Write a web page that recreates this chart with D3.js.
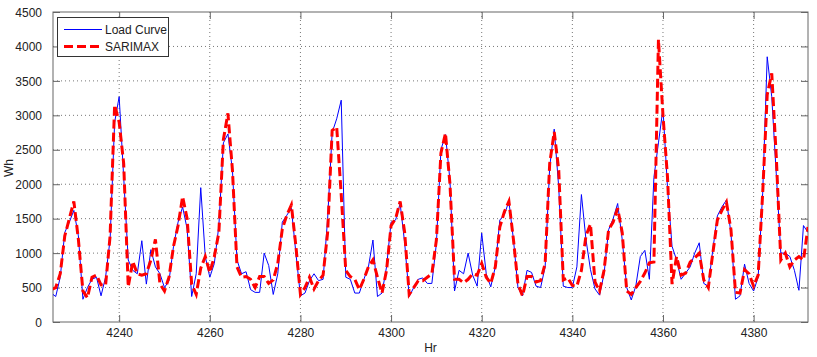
<!DOCTYPE html>
<html>
<head>
<meta charset="utf-8">
<script src="https://cdn.jsdelivr.net/npm/d3@7"></script>
<style>
body{margin:0;background:#fff}
svg{font-family:"Liberation Sans",Arial,sans-serif}
.tick text{font-size:12px;fill:#222}
</style>
</head>
<body>
<div id="chart"></div>
<script>
// hours on the x axis
var hourStart = 4225
var hourEnd = 4392
var xTicks = [4240,4260,4280,4300,4320,4340,4360,4380]
var yTicks = [0,500,1000,1500,2000,2500,3000,3500,4000,4500]

// measured load (Wh), one per hour from hourStart
var loadCurve = [
    420,370,650,1300,1450,1620,1250,330,500,620,650,380,650,1200,2900,3270,
    2100,900,750,700,1180,550,1050,800,700,500,600,1100,1450,1670,1350,370,
    700,1950,950,650,850,1400,2600,2730,2200,900,700,730,470,430,430,1000,
    820,400,700,1450,1550,1650,1000,380,420,600,700,600,620,1500,2750,2950,
    3220,650,620,420,420,620,800,1190,370,420,800,1450,1480,1720,1150,370,
    500,620,640,560,560,1140,2500,2720,2050,450,750,700,1000,680,520,1290,
    700,510,800,1480,1560,1750,1200,500,380,750,720,520,500,800,2250,2800,
    1950,520,500,500,800,1850,1200,760,480,390,700,1340,1500,1720,1200,500,
    320,520,950,1040,620,2100,2600,3100,1950,1100,900,620,710,800,1000,1150,
    560,520,1050,1540,1670,1770,1290,330,380,840,560,450,650,1870,3850,3270,
    2150,1000,1000,950,750,460,1400,1300]

// SARIMAX forecast (Wh)
var sarimax = [
    470,500,700,1250,1500,1750,1200,450,350,650,680,540,530,1250,3150,2900,
    2300,510,880,700,680,700,900,1200,550,450,650,1100,1400,1820,1500,550,
    400,780,950,720,950,1300,2650,3030,2200,800,650,660,620,500,660,660,
    560,610,850,1350,1550,1700,1100,400,500,650,480,600,680,1300,2780,2830,
    1850,750,660,620,470,620,800,900,650,420,750,1400,1500,1750,1300,400,
    500,600,600,650,700,1190,2450,2740,2000,620,620,570,620,700,680,850,
    650,560,800,1380,1600,1750,1200,550,380,660,660,580,600,850,2300,2760,
    2200,610,640,530,520,750,1250,1420,580,450,750,1340,1450,1650,1300,450,
    400,500,590,710,860,870,4100,3000,2100,550,950,680,710,870,930,1000,
    610,500,1000,1480,1620,1740,1340,430,420,760,700,520,680,1870,3300,3610,
    2400,900,1000,800,900,950,900,1380]

var legendNames = ['Load Curve','SARIMAX']

var width = 817, height = 357
var plot = {left:53, right:808, top:12, bottom:322}

var hours = d3.range(hourStart, hourEnd+1)

var svg = d3.select('#chart').append('svg')
    .attr('width', width)
    .attr('height', height)

var x = d3.scaleLinear().domain([4225.4, 4392]).range([plot.left, plot.right])
var y = d3.scaleLinear().domain([0, 4500]).range([plot.bottom, plot.top])

svg.append('defs').append('clipPath')
    .attr('id','plotclip')
    .append('rect')
    .attr('x', plot.left).attr('y', plot.top)
    .attr('width', plot.right-plot.left).attr('height', plot.bottom-plot.top)

// grid
var grid = svg.append('g').attr('class','grid')
grid.selectAll('line.hg').data(yTicks.slice(1, -1)).enter().append('line')
    .attr('x1', plot.left).attr('x2', plot.right)
    .attr('y1', function(d){return y(d)}).attr('y2', function(d){return y(d)})
    .style('stroke','#777').style('stroke-dasharray','1,3')
grid.selectAll('line.vg').data(xTicks).enter().append('line')
    .attr('x1', function(d){return x(d)}).attr('x2', function(d){return x(d)})
    .attr('y1', plot.top).attr('y2', plot.bottom)
    .style('stroke','#777').style('stroke-dasharray','1,3')

// axes (MATLAB style box, ticks inside)
var tickLen = 7
var bottomAxis = svg.append('g')
    .attr('transform','translate(0,'+plot.bottom+')')
    .call(d3.axisBottom(x).tickValues(xTicks).tickFormat(d3.format('d')).tickSizeInner(-tickLen).tickSizeOuter(0).tickPadding(6))
var topAxis = svg.append('g')
    .attr('transform','translate(0,'+plot.top+')')
    .call(d3.axisTop(x).tickValues(xTicks).tickFormat('').tickSizeInner(-tickLen).tickSizeOuter(0))
var leftAxis = svg.append('g')
    .attr('transform','translate('+plot.left+',0)')
    .call(d3.axisLeft(y).tickValues(yTicks).tickFormat(d3.format('d')).tickSizeInner(-tickLen).tickSizeOuter(0).tickPadding(11))
var rightAxis = svg.append('g')
    .attr('transform','translate('+plot.right+',0)')
    .call(d3.axisRight(y).tickValues(yTicks).tickFormat('').tickSizeInner(-tickLen).tickSizeOuter(0))

;[bottomAxis, topAxis, leftAxis, rightAxis].forEach(function(a){
    a.select('.domain').remove()
    a.selectAll('.tick line').style('stroke','#666')
})
leftAxis.selectAll('.tick text').attr('dy','0.35em')

svg.append('rect')
    .attr('x', plot.left).attr('y', plot.top)
    .attr('width', plot.right-plot.left).attr('height', plot.bottom-plot.top)
    .style('fill','none').style('stroke','#666')

// series
var lineLoad = d3.line()
    .x(function(d,i){return x(hours[i])})
    .y(function(d){return y(d)})

var lines = svg.append('g').attr('clip-path','url(#plotclip)')
lines.append('path')
    .datum(loadCurve)
    .attr('d', lineLoad)
    .style('fill','none').style('stroke','#0000ff').style('stroke-width',1)
lines.append('path')
    .datum(sarimax)
    .attr('d', lineLoad)
    .style('fill','none').style('stroke','#ff0000').style('stroke-width',3)
    .style('stroke-dasharray','9,4')

// labels
svg.append('text')
    .attr('x', (plot.left+plot.right)/2).attr('y', 352)
    .attr('text-anchor','middle')
    .style('font-size','12px').style('fill','#222')
    .text('Hr')
svg.append('text')
    .attr('transform','translate(13,168) rotate(-90)')
    .attr('text-anchor','middle')
    .style('font-size','12px').style('fill','#222')
    .text('Wh')

// legend
var lg = svg.append('g')
lg.append('rect')
    .attr('x', 57.5).attr('y', 17.5).attr('width', 111).attr('height', 39)
    .style('fill','#fff').style('stroke','#333')
var styles = [
    {stroke:'#0000ff', w:1, dash:null},
    {stroke:'#ff0000', w:3, dash:'9,4'}
]
legendNames.forEach(function(name, i){
    var ly = 29.5 + i*17
    lg.append('line')
        .attr('x1', 64).attr('x2', 102).attr('y1', ly).attr('y2', ly)
        .style('stroke', styles[i].stroke).style('stroke-width', styles[i].w)
        .style('stroke-dasharray', styles[i].dash)
    lg.append('text')
        .attr('x', 105).attr('y', ly).attr('dy','0.35em')
        .style('font-size','12px').style('fill','#222')
        .text(name)
})
</script>
</body>
</html>
